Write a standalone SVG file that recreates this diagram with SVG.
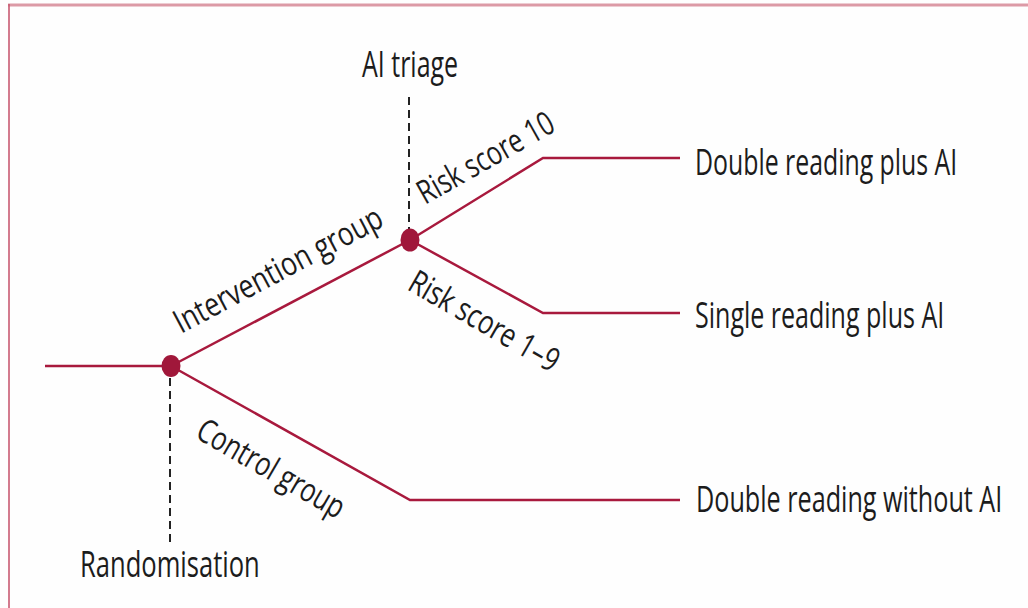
<svg xmlns="http://www.w3.org/2000/svg" width="1028" height="608" viewBox="0 0 1028 608">
<style>
.ln{fill:none;stroke:#a8193d;stroke-width:2.5;stroke-linejoin:miter}
.dash{fill:none;stroke:#222;stroke-width:2;stroke-dasharray:8 5}
.dot{fill:#a0173a}
.t{font-family:"Open Sans","Noto Sans",sans-serif;fill:#1c1c1c;font-size:37px}
.r{font-family:"Open Sans","Noto Sans",sans-serif;fill:#1c1c1c;font-size:33px}
</style>
<rect x="0" y="0" width="1028" height="608" fill="#fefefe"/>
<line x1="8" y1="5" x2="1028" y2="5" stroke="#dc9aa6" stroke-width="3"/>
<line x1="9" y1="4" x2="9" y2="608" stroke="#c85a72" stroke-width="1.6"/>
<g id="connectors">
<polyline class="ln" points="45,366 171,366"/>
<polyline class="ln" points="171,366 410,240"/>
<polyline class="ln" points="410,240 543,158 680,158"/>
<polyline class="ln" points="410,240 543,313 680,313"/>
<polyline class="ln" points="171,366 410,500 680,500"/>
<line class="dash" x1="409" y1="97" x2="409" y2="230"/>
<line class="dash" x1="170" y1="378" x2="170" y2="546"/>
</g>
<g id="randomisation">
<ellipse class="dot" cx="171" cy="366" rx="9.5" ry="11"/>
<text class="t" transform="translate(80,577) scale(0.62,1)" textLength="290" lengthAdjust="spacingAndGlyphs">Randomisation</text>
</g>
<g id="ai-triage">
<ellipse class="dot" cx="410" cy="240" rx="9.5" ry="11.5"/>
<text class="t" transform="translate(362,77) scale(0.62,1)" textLength="155" lengthAdjust="spacingAndGlyphs">AI triage</text>
</g>
<g id="intervention-label">
<text class="r" transform="translate(181,334) rotate(-28) scale(0.7,1)" textLength="331" lengthAdjust="spacingAndGlyphs">Intervention group</text>
</g>
<g id="risk10-label">
<text class="r" transform="translate(425,205) rotate(-29.5) scale(0.7,1)" textLength="217" lengthAdjust="spacingAndGlyphs">Risk score 10</text>
</g>
<g id="risk19-label">
<text class="r" transform="translate(406,289) rotate(30) scale(0.7,1)" textLength="240" lengthAdjust="spacingAndGlyphs">Risk score 1–9</text>
</g>
<g id="control-label">
<text class="r" transform="translate(194,437) rotate(30) scale(0.7,1)" textLength="236" lengthAdjust="spacingAndGlyphs">Control group</text>
</g>
<g id="double-plus-ai">
<text class="t" transform="translate(695,175) scale(0.62,1)" textLength="423" lengthAdjust="spacingAndGlyphs">Double reading plus AI</text>
</g>
<g id="single-plus-ai">
<text class="t" transform="translate(695,328) scale(0.62,1)" textLength="402" lengthAdjust="spacingAndGlyphs">Single reading plus AI</text>
</g>
<g id="double-without-ai">
<text class="t" transform="translate(696,512) scale(0.62,1)" textLength="494" lengthAdjust="spacingAndGlyphs">Double reading without AI</text>
</g>
</svg>
